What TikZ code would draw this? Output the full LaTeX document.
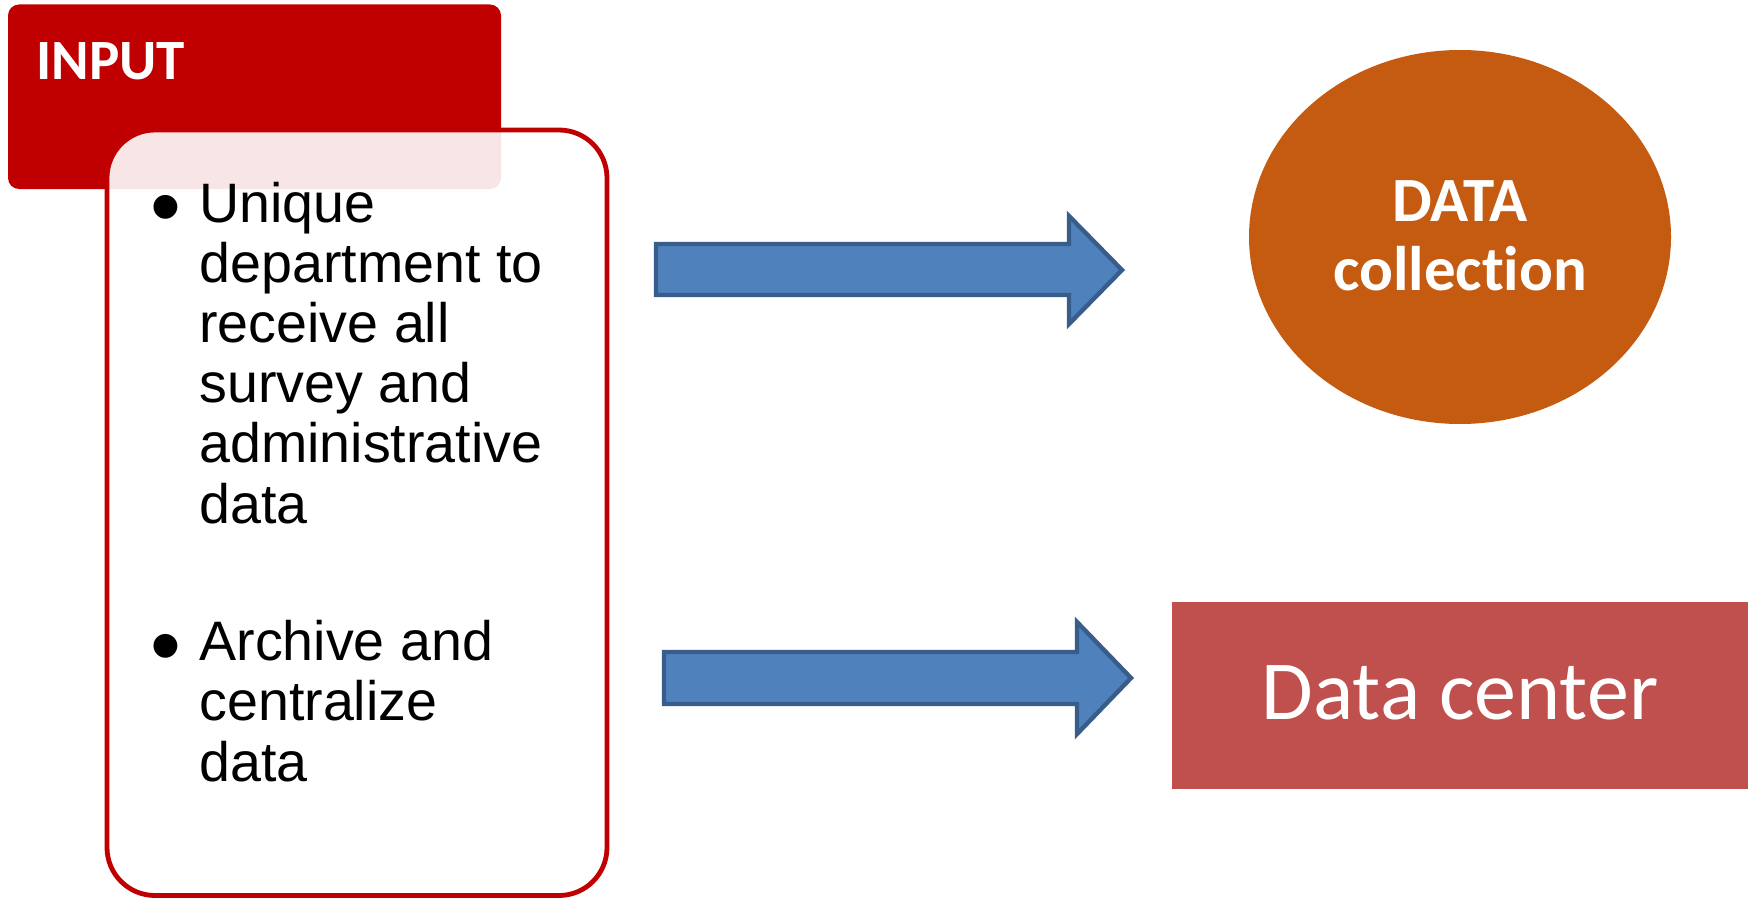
\documentclass[tikz,border=0pt]{standalone}
\usepackage{fontspec}
\setmainfont{Liberation Sans}
\newfontfamily\carlito[Ligatures=NoCommon]{Carlito}
\usetikzlibrary{shapes.geometric}
\definecolor{inred}{HTML}{C00000}
\definecolor{arrfill}{HTML}{4F81BD}
\definecolor{arrline}{HTML}{385D8A}
\definecolor{orng}{HTML}{C55A11}
\definecolor{dcred}{HTML}{C0504D}
\tikzset{
  bigarrow/.style={fill=arrfill, draw=arrline, line width=2.2pt, line join=miter},
  bodytext/.style={inner sep=0pt, align=left, font=\fontsize{27.8}{30.1}\selectfont},
  bulletmark/.style={inner sep=0pt, anchor=center, font=\fontsize{44}{46}\selectfont},
}
\begin{document}
\begin{tikzpicture}[x=0.5pt,y=-0.5pt]
\useasboundingbox (0,0) rectangle (1760,899);
% header box
\fill[inred, rounded corners=5.5pt] (8,4.5) rectangle (501,189);
\node[inner sep=0pt, anchor=base west, text=white, font=\carlito\bfseries\fontsize{28.5}{30}\selectfont] (inputlbl) at (36,80) {INPUT};
% content box
\draw[inred, line width=2.4pt, fill=white, fill opacity=0.9, rounded corners=24pt] (107,130) rectangle (607,895.5);
\node[bulletmark] (b1) at (166,216) {\textbullet};
\node[bodytext, anchor=base west] (t1) at (199,523) {Unique\\department to\\receive all\\survey and\\administrative\\data};
\node[bulletmark] (b2) at (166,655) {\textbullet};
\node[bodytext, anchor=base west] (t2) at (199,781) {Archive and\\centralize\\data};
% arrows
\draw[bigarrow] (656,244) -- (1069,244) -- (1069,216) -- (1122,270) -- (1069,324) -- (1069,295) -- (656,295) -- cycle;
\draw[bigarrow] (664,652) -- (1077,652) -- (1077,622) -- (1131,678) -- (1077,734) -- (1077,704) -- (664,704) -- cycle;
% ellipse
\node[ellipse, fill=orng, inner sep=0pt, minimum width=211pt, minimum height=187pt] (coll) at (1460,237) {};
\node[inner sep=0pt, anchor=base, text=white, font=\carlito\bfseries\fontsize{31.5}{34.5}\selectfont] (collA) at (1460,221) {DATA};
\node[inner sep=0pt, anchor=base, text=white, font=\carlito\bfseries\fontsize{31.5}{34.5}\selectfont] (collB) at (1460,290) {collection};
% data center
\node[rectangle, fill=dcred, inner sep=0pt, minimum width=288pt, minimum height=93.5pt] (dc) at (1460,695.5) {};
\node[inner sep=0pt, anchor=base, text=white, font=\carlito\fontsize{42}{45}\selectfont] (dclbl) at (1460,719) {Data center};
\end{tikzpicture}
\end{document}
